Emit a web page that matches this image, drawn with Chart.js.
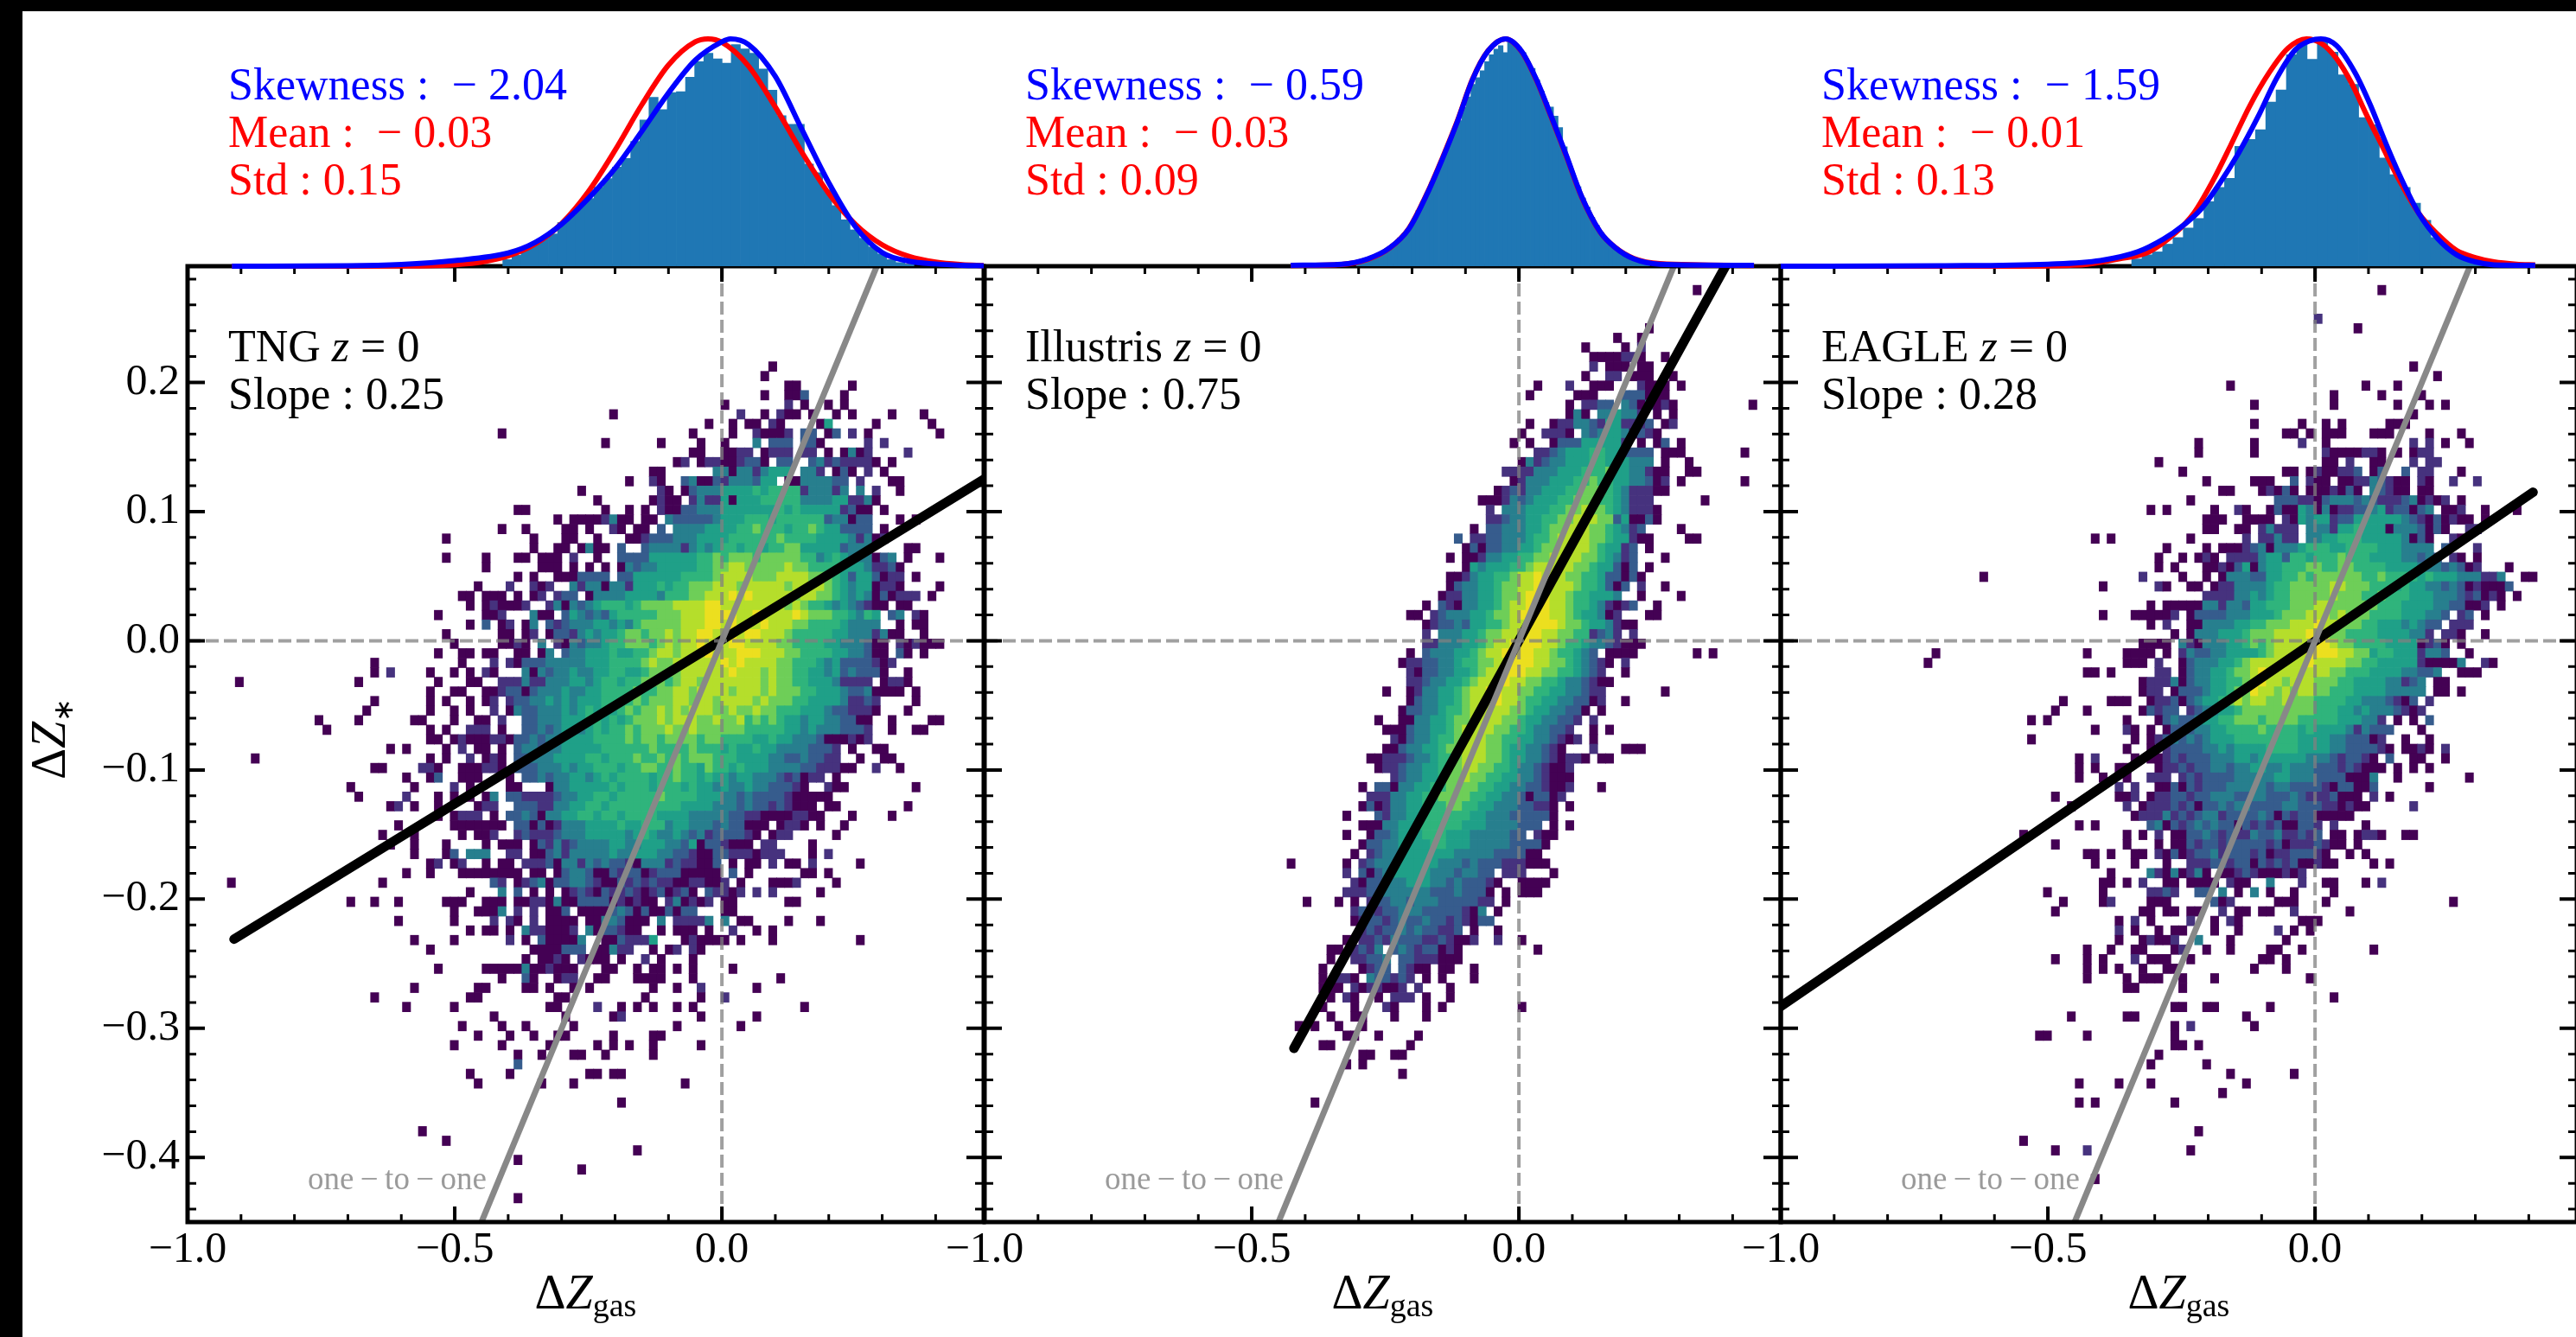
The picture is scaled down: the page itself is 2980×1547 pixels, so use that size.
<!DOCTYPE html>
<html>
<head>
<meta charset="utf-8">
<title>Delta Z star vs Delta Z gas</title>
<script src="https://cdn.jsdelivr.net/npm/chart.js@4/dist/chart.umd.min.js"></script>
<style>
html, body { margin: 0; padding: 0; width: 2980px; height: 1547px; background: #fff; overflow: hidden; }
#bandTop { position: absolute; left: 0; top: 0; width: 2980px; height: 13px; background: #000; }
#bandLeft { position: absolute; left: 0; top: 0; width: 26px; height: 1547px; background: #000; }
canvas { position: absolute; }
</style>
</head>
<body>
<div id="bandTop"></div>
<div id="bandLeft"></div>
<canvas id="main0"></canvas><canvas id="main1"></canvas><canvas id="main2"></canvas>
<canvas id="hist0"></canvas><canvas id="hist1"></canvas><canvas id="hist2"></canvas>
<script>
const panelNames = ['TNG', 'Illustris', 'EAGLE'];
const slopes = ['0.25', '0.75', '0.28'];
const skews = ['\u22122.04', '\u22120.59', '\u22121.59'];
const means = ['\u22120.03', '\u22120.03', '\u22120.01'];
const stds = ['0.15', '0.09', '0.13'];

const xMin = -1, xMax = 0.49, yMin = -0.45, yMax = 0.29;
const xTicks = [-1, -0.9, -0.8, -0.7, -0.6, -0.5, -0.4, -0.3, -0.2, -0.1, 0, 0.1, 0.2, 0.3, 0.4];
const xMajor = [-1, -0.5, 0];
const yTicks = [-0.44, -0.42, -0.4, -0.38, -0.36, -0.34, -0.32, -0.3, -0.28, -0.26, -0.24, -0.22, -0.2, -0.18, -0.16, -0.14, -0.12, -0.1, -0.08, -0.06, -0.04, -0.02, 0, 0.02, 0.04, 0.06, 0.08, 0.1, 0.12, 0.14, 0.16, 0.18, 0.2, 0.22, 0.24, 0.26, 0.28];
const yMajor = [-0.4, -0.3, -0.2, -0.1, 0, 0.1, 0.2];

// viridis steps of the log colour scale, index = level in the rows below
const levelColors = ['', '#440154', '#46327e', '#365c8d', '#277f8e', '#1fa088', '#2fb47c', '#6ece58', '#b5de2b', '#ecdf1f'];

// fit lines
const blackX = [[-0.913, 0.49], [-0.421, 0.39], [-1, 0.408]];
const blackY = [[-0.231, 0.125], [-0.3155, 0.2925], [-0.283, 0.115]];
const oneToOneX = [-0.45, 0.29];
const oneToOneY = [-0.45, 0.29];

// marginal histograms: first bin centre, bin width, bar heights
const histStart = [-0.4015, -0.3, -0.3334];
const histStep = [0.0171, 0.00858, 0.0193];
const histBarPx = [10.6, 5.4, 12];
const tngHist = [0.029, 0.048, 0.073, 0.098, 0.123, 0.142, 0.192, 0.223, 0.267, 0.298, 0.348, 0.386, 0.436, 0.474, 0.549, 0.643, 0.743, 0.689, 0.764, 0.768, 0.831, 0.9, 0.937, 0.912, 0.893, 0.975, 0.956, 0.937, 0.868, 0.774, 0.662, 0.624, 0.624, 0.449, 0.411, 0.336, 0.267, 0.204, 0.16, 0.123, 0.085, 0.054, 0.029, 0.016, 0.008];
const illustrisHist = [0.018, 0.025, 0.032, 0.042, 0.05, 0.06, 0.072, 0.085, 0.1, 0.125, 0.145, 0.17, 0.2, 0.245, 0.285, 0.32, 0.37, 0.41, 0.46, 0.51, 0.56, 0.6, 0.64, 0.7, 0.745, 0.8, 0.83, 0.86, 0.9, 0.93, 0.955, 0.97, 0.94, 0.985, 0.98, 0.965, 0.94, 0.9, 0.87, 0.82, 0.77, 0.72, 0.7, 0.66, 0.61, 0.525, 0.44, 0.39, 0.35, 0.3, 0.26, 0.215, 0.18, 0.148, 0.115, 0.09, 0.075, 0.06, 0.05, 0.04, 0.03, 0.022, 0.017, 0.013];
const eagleHist = [0.032, 0.05, 0.063, 0.097, 0.126, 0.168, 0.21, 0.284, 0.347, 0.387, 0.527, 0.558, 0.6, 0.722, 0.775, 0.93, 0.996, 0.91, 0.996, 0.942, 0.842, 0.8, 0.654, 0.622, 0.476, 0.403, 0.347, 0.277, 0.202, 0.126, 0.095, 0.054, 0.032, 0.019];

const tngRedX = [-0.917, -0.7, -0.6, -0.55, -0.5, -0.45, -0.4, -0.35, -0.3, -0.25, -0.2, -0.15, -0.1, -0.05, -0.026, 0, 0.05, 0.1, 0.15, 0.2, 0.25, 0.3, 0.35, 0.4, 0.45, 0.49];
const tngRedY = [0, 0, 0.001, 0.002, 0.007, 0.018, 0.045, 0.097, 0.188, 0.328, 0.51, 0.71, 0.885, 0.987, 1, 0.985, 0.88, 0.7, 0.5, 0.32, 0.184, 0.094, 0.043, 0.018, 0.007, 0.003];
const tngBlueX = [-0.917, -0.7, -0.6, -0.5, -0.4, -0.35, -0.3, -0.25, -0.2, -0.15, -0.1, -0.05, 0, 0.016, 0.05, 0.1, 0.15, 0.2, 0.25, 0.3, 0.35, 0.4, 0.45, 0.49];
const tngBlueY = [0, 0.002, 0.008, 0.025, 0.058, 0.104, 0.185, 0.298, 0.43, 0.593, 0.762, 0.906, 0.987, 1, 0.975, 0.835, 0.6, 0.367, 0.173, 0.06, 0.022, 0.01, 0.004, 0.002];
const illustrisBlueX = [-0.427, -0.332, -0.283, -0.241, -0.206, -0.171, -0.143, -0.115, -0.087, -0.058, -0.025, 0.005, 0.033, 0.061, 0.089, 0.117, 0.152, 0.18, 0.215, 0.264, 0.44];
const illustrisBlueY = [0.004, 0.009, 0.032, 0.082, 0.164, 0.322, 0.473, 0.637, 0.82, 0.946, 1, 0.946, 0.82, 0.656, 0.486, 0.309, 0.151, 0.082, 0.032, 0.009, 0.004];
const illustrisRedX = [-0.427, -0.332, -0.283, -0.241, -0.206, -0.171, -0.143, -0.115, -0.087, -0.058, -0.025, 0.005, 0.033, 0.061, 0.089, 0.117, 0.152, 0.18, 0.215, 0.264, 0.44];
const illustrisRedY = [0.003, 0.008, 0.03, 0.081, 0.166, 0.325, 0.477, 0.64, 0.822, 0.947, 1, 0.944, 0.817, 0.652, 0.482, 0.306, 0.15, 0.083, 0.034, 0.011, 0.003];
const eagleRedX = [-1, -0.6, -0.437, -0.367, -0.311, -0.262, -0.227, -0.192, -0.157, -0.122, -0.086, -0.051, -0.016, 0.012, 0.04, 0.068, 0.096, 0.124, 0.159, 0.194, 0.23, 0.265, 0.3, 0.335, 0.377, 0.412];
const eagleRedY = [0, 0, 0.006, 0.032, 0.063, 0.145, 0.233, 0.372, 0.536, 0.706, 0.851, 0.958, 1, 0.98, 0.914, 0.807, 0.668, 0.536, 0.372, 0.233, 0.139, 0.069, 0.038, 0.019, 0.009, 0.006];
const eagleBlueX = [-1, -0.7, -0.5, -0.402, -0.332, -0.283, -0.248, -0.213, -0.178, -0.143, -0.107, -0.072, -0.037, -0.009, 0.011, 0.04, 0.075, 0.103, 0.131, 0.159, 0.194, 0.23, 0.265, 0.3, 0.335, 0.412];
const eagleBlueY = [0, 0.002, 0.009, 0.025, 0.063, 0.12, 0.177, 0.252, 0.366, 0.498, 0.656, 0.826, 0.952, 0.992, 1, 0.971, 0.851, 0.712, 0.549, 0.397, 0.233, 0.12, 0.05, 0.019, 0.006, 0.004];

// 2D histograms, 100x100 bins: "row from top:first column:level per bin", '.' = empty
const tngRows = [
"10:73:1","11:72:1","12:75:11......1","13:72:1..113....1","14:67:1.......2.1..1.1",
"15:53:1...............2..1.211.1..1.1....1...1","16:65:1..1.11.21....15.....1......1",
"17:39:1.......................1....1..21112.33.13.2.1........1",
"18:52:1......1....1..1...4.333.331.....2.2","19:63:11..1122.1222.22.1.1412....2",
"20:61:12.122112331.33..342322221.1","21:58:11......4414424555.442.131.2.1",
"22:55:1..21..341132444355.11444433.2...11","23:49:1.........21.134445555656666244424.4.2..1",
"24:51:1......1211.242251555666664444552241","25:41:11.........1..1.1.211334445555555656555552311.1",
"26:46:1.11112411.11.43333345556665666666344133...1.1","27:39:1..1....11.1..21.11.3.4444555566766656676553333.1",
"28:32:1..........1...11..1...112333444555566666676666555542412",
"29:43:1..11.1411.3..34444245456656656677555553444....11",
"30:32:1....1...11.111.2..1..33335555556676777677777664565444134.1...1",
"31:37:1......111.1.1.1.143445555566778877777877666655542231",
"32:41:1.1..1113333.335555556666788887778888777653553122.1",
"33:36:1...2..212..424414425556566777888788888788887654551221....1",
"34:34:11.111.1.12.233.144445555466677888989888887887765454131222.1",
"35:35:1.121112..2414345666567777888899888888887876654543211.11",
"36:31:1.....112...411.3543435666667778889999889888898777665465.34.21",
"37:35:1.3.12.14.323444554546777778889989888988877666654444..1.11",
"38:32:1......11.12.133245455677677878899889899888766666554442411..1",
"39:33:1.....1121.4.214344566777678788989899888877666655444311.212111",
"40:31:1..11.11..11.14.34455565566788788898889998887766665544311.31.1",
"41:23:1..........1...2.2133344444555666678778888889898888776665453333212",
"42:23:1.2....1..1.1.21...4143445445566556777788888898887877665545343331..1",
"43:6:1..............1.........1...11..22242244455456656677767887888888878776655542222.1221",
"44:30:1..11..11233134445445566667667788788887888787776655543341111.1",
"45:23:1......1.1..1.12.23344545455566667677788788788887877766555542232....1",
"46:22:1.......1..1.1..2.14334445456565676778787888778778776665554332221...1",
"47:16:1....1......11...1..11.2..33444555665656777878887787786767655455443311..1....11",
"48:17:1............1.1..222.1..33434554565667677787787777776666655454443332..1..11",
"49:30:11.12111221334344555566667677677776776666556554443111212",
"50:25:1.1....1.2.11.1.34434455555666666766667666565565544443332.1..11",
"51:8:1.....................1.1..2.121.33444555566566676676767776665555443343322..1..11",
"52:23:11....221..111221.33344454556665667766766576656555444433222 11..2..1".replace(' ', ''),
"53:27:1..13..111...1.33434455456566665667665655455444323 122.1".replace(' ', ''),
"54:20:1.......1....2.1....11...144555556566656665655454454433321..211........1",
"55:21:1.....2...1.1.1.14.33222234455665666667666655544343333211111",
"56:25:12.1..1....122..33322445566566666666655554443433232111.11........1",
"57:31:1.1222.1.3343144556656656666555544444332211112211...1....1",
"58:26:1......1111111.33131244455556556664554443433111.1221.1..1",
"59:24:1...1.....1.112..2322234445555545654454342333321.122.....1",
"60:25:1..1...1....1.111.132423444455445554435133211 1.22....1".replace(' ', ''),
"61:28:1...13.444..22.11342444445445554433 211332221222...1.2".replace(' ', ''),
"62:30:12.12..1.11.2223144243433214442322113.1.11.2.11.2.....1",
"63:27:1..1...11111111.11.134431132331233311111.3.1......11.1",
"64:5:1..................1.............32.12341334432113232322112 2112.1...1112....1".replace(' ', ''),
"65:35:1...4.3.1.1.12321322321231231.32212.2.2.....1",
"66:20:1..1..1.....111..111.112214113333121211.241212.11......11",
"67:33:1..1114.2.2.113.111134313113133...11",
"68:26:1......1....2.21.2.1111.11443111.4.22224.4.11....1...1",
"69:35:1.11.1.4221112.4133211..1.111.1..2..1.1",
"70:28:1....1......2.1.311114..1132225...121111.1...1..........1",
"71:30:1............1111333.11422..1.12.21","72:42:1.1121.2111.1..2.1...1",
"73:31:1.....111114112111...11..1.11.1.1....1","74:39:1..31..122..11...1111...1..........1",
"75:28:1.......11....11.1..1.1.......1..1..2......1","76:23:1...........11.........11.........1......1..2",
"77:27:1.....1...........11....2..1.1.1..1.1.............1","78:38:1........1.....12.........1......1",
"79:34:1....1..1.....1............1.......1","80:36:1...1..1..11.....1....11",
"81:33:1.....1.....1.....1.1.1..1.....1","82:41:1..1...11..1.....1","83:41:3",
"84:35:1....1.........11.11","85:36:1.......1...1.............1",
"87:54:1","90:29:1","91:32:1","92:56:1","93:41:1","94:49:1","97:41:1"
];
const illustrisRows = [
"2:89:1","6:83:1","7:79:1..1","8:75:1....1.2","9:76:1111221..1","10:76:2.111.11","11:75:1..22.111..1",
"12:69:1...2..111...2111.1","13:68:1.....111...333111","14:73:1.2233.4313121.........1","15:73:141.445442.1.1",
"16:68:1..1224432552223.12","17:67:1..2221.4345541321","18:66:1.1..1333555552.1.13.1",
"19:69:223455566553333.111.......1","20:67:14234455566555444.1..1","21:65:222244455566675544211..11",
"22:66:12444555667665544312.1.......1","23:64:1232445556677765422211",
"24:62:1112434555667776654222......1","25:63:2.44455566778776542221","26:63:2234455667788877351131",
"27:61:1.3344455677888776542 3....1".replace(' ', ''),"28:59:3.22334445667888877655211....11",
"29:60:1313344556778888765523.1","30:58:1.1124455667788887765423...1",
"31:60:154555667888887765531 3.1".replace(' ', ''),"32:58:1124556678898887766533131",
"33:58:13445567788998887665313.2..1","34:57:12244556778999887665554..1....1",
"35:55:1.321445567889998876654 2123..1".replace(' ', ''),"36:53:11.234445567789999887655412...11",
"37:55:123343556678899998776554211","38:55:2.44455677889998877662342.2",
"39:55:2244455678899998876654432111","40:53:1.3444556788999988766543.1111.......1.1",
"41:52:12233445667788999887765 4321.2".replace(' ', ''),"42:53:21334455678899988776654 32..1".replace(' ', ''),
"43:53:22344556788998877665443 211".replace(' ', ''),"44:50:1..1244556788998877665544322.......1",
"45:53:1344556788898876655443312..1","46:52:133445667888887765544331.1",
"47:49:1..11445567788887765544332.2","48:50:111344556788887766544332..1.1",
"49:51:2134456678887766554432 12.1".replace(' ', ''),"50:50:11344556778887765544321...2...111",
"51:48:1122234456678887765544321221.11","52:49:1223445567788776654432112",
"53:51:2344556778776655443 2111".replace(' ', ''),"54:47:1.3314455667777665544332 112...1".replace(' ', ''),
"55:48:22244556677776655443133 12".replace(' ', ''),"56:47:13124455666776655444332 21.1".replace(' ', ''),
"57:45:1...3244556666665544433 3331".replace(' ', ''),"58:47:11144556666665554444333.1.1",
"59:45:1..13345556665554444433.211","60:47:1334455556655544444333 31".replace(' ', ''),
"61:46:1.2344555555544444333311","62:38:1......1.23444555554443433322 2111".replace(' ', ''),
"63:45:2.31345555544434433.222...1","64:46:2133444555443433321..1111",
"65:45:2223344444433343331.1.111","66:40:1...1.1.233443444333332 2.1".replace(' ', ''),
"67:46:23323344433333214.1","68:46:123323433433 2321 33".replace(/ /g, ''),
"69:47:2323343433 2 23.1..1".replace(/ /g, ''),"70:45:1.22324333223211 2..2..1".replace(' ', ''),
"71:43:11.2324.343233121.........1","72:43:1..22334.33222111",
"73:42:1....1233.3211.11..1","74:42:1.221.433232.1.1...1",
"75:42:111.2122112.2...1","76:43:1.21..1.222.1..1",
"77:42:1...1...21...1.1.........1","78:43:1..11...1...1","79:39:1.1..1..1","80:45:11..1....1",
"81:42:11.........1","82:47:11..11","83:45:1.1","84:52:1","87:41:1"
];
const eagleRows = [
"2:75:1","5:67:2","6:72:1","10:79:1","11:82:1","12:56:1................1...1","13:69:1.....1....1",
"14:59:1.........1.......1...1.1","15:79:1","16:59:1.....1..1.1.....111","17:63:11.1.111...111....1...1",
"18:52:1......1.....2..1..........2.2.1..1","19:52:1......1........21111221.1.122",
"20:47:1....................11.2..11...2.22","21:50:1............11.1211223.13..3.22...1",
"22:53:1.....111..3.211.112243211.21..2..2","23:55:11...12131.1112131.43211.11",
"24:51:1..........3332213444343222341212.1","25:46:1.1.....1..21..131154141223345233134.112..1...1",
"26:53:111..1111.21545523355555543213121 1.1".replace(' ', ''),"27:53:11..11.24222.444255655514443131..22",
"28:39:1.1.........1......2.22422.4455666555554131..21",
"29:48:1....1.111234144456665566665554444.3...2",
"30:47:1..1.121.22224553665666766655554434 3.21.1".replace(' ', ''),
"31:47:1.1...1121351455666776677666655554443431 2...1".replace(' ', ''),
"32:25:1...................2....1..1.144433556676777777667666656555444224..11",
"33:40:1......21..11.12244445667777788777666565544343121113",
"34:53:222244545667777787776676665554443 231 21.1".replace(/ /g, ''),
"35:46:1.111114424435566677788777777666555544 331 12.1".replace(/ /g, ''),
"36:40:1...111112.1333344455567778887877766665554 43.23.1".replace(' ', ''),
"37:46:1.2..114444556677788898877766555 45433.222".replace(' ', ''),
"38:49:1.144455567778888988776666555544 2.221..1".replace(' ', ''),
"39:45:1111.421444556767888889987766665555123 1.1".replace(' ', ''),
"40:19:1..................1....1111.1.243344555567888899998877566555 2443..1".replace(' ', ''),
"41:18:1........................111.2..1344455678888888988887766555 5521111 4..21".replace(/ /g, ''),
"42:38:11.1.....22.134455677898888888877666555 54433 4..111".replace(/ /g, ''),
"43:45:122241344556678988788877766555 54423 4.11".replace(/ /g, ''),
"44:45:122.13334556779887878877666555 544444.11.1".replace(' ', ''),
"45:35:1.....111..122313455678788778777666655444321 3.2".replace(' ', ''),
"46:34:1...1......13233.2344556777777777666554544432 12".replace(' ', ''),
"47:31:1.1.........1...134334556677767777666665554 42.1.1.3".replace(' ', ''),
"48:39:1...21.1.13334455666676666565555 42433 3...1".replace(/ /g, ''),
"49:31:1............1.1234343455566666666555544333 12..1..1".replace(' ', ''),
"50:43:1..1.2333344545555666655554433332 1.1121.2".replace(' ', ''),
"51:37:1.2....1.112323334445545555554443 23321.3..11..1".replace(' ', ''),
"52:37:1.1..11...12232334434455445444333 23211 1.1.1.1".replace(/ /g, ''),
"53:37:1..1..1..222.23233334444455444333 31114..1........1".replace(' ', ''),
"54:42:2.2..1131323334444434433332133 113......1".replace(' ', ''),
"55:34:1.......112.1223323344433443334322 23111.2.1".replace(' ', ''),
"56:36:1......2.12223231334344333344333 2212 11.....2".replace(/ /g, ''),
"57:44:1222423234423333431323311111",
"58:37:1.1......3413234343313232311332.2...1",
"59:30:1............1.1.2.1133432322433422323.11.1221..11",
"60:34:1........1...1.1132332333332312223211.1",
"61:38:11.1..11.21312334233323122333 21..1.1".replace(' ', ''),
"62:39:1....1...1..2223323313232 311211....1.1".replace(' ', ''),
"63:41:1....421412 41.112321112 12".replace(/ /g, ''),
"64:40:11.1.2..11.1111.211..4...2..11...1.2",
"65:33:1......1.....2232..33.4.1.4.1..1....1",
"66:35:1....12....111.....312.....111...1...............1",
"67:34:1..........11.11.11..2.11.11..2......1","68:42:1.2.1....2..1.21.......111",
"69:42:2.1..1.11...1..1....2.1.1","70:42:1..12112..4...1......1",
"71:38:1..1..11...12..1..1....11..1........1","72:34:1...1.1...2.111..1........11.1",
"73:38:1.1.1..1..11.........1...1","74:38:1....1.111..1...1...........1","75:43:11.....1","76:69:1",
"77:49:11..11......1","78:36:1......11.............1","79:49:1.2.......1","80:32:11....1..........1",
"81:49:11.1","82:47:1","83:46:1......1","84:56:1.......1","85:37:1....1...1...........1","86:55:1",
"87:37:1.1.........1","90:52:1","91:30:1","92:34:1...2............1","95:39:1"
];

const heatRows = [tngRows, illustrisRows, eagleRows];
const histBars = [tngHist, illustrisHist, eagleHist];
const redX = [tngRedX, illustrisRedX, eagleRedX];
const redY = [tngRedY, illustrisRedY, eagleRedY];
const blueX = [tngBlueX, illustrisBlueX, eagleBlueX];
const blueY = [tngBlueY, illustrisBlueY, eagleBlueY];

const serif = '"Liberation Serif", "Times New Roman", serif';
const panelLeft = [217, 1139, 2060];
const panelW = 921, axisTop = 308, axisBottom = 1414;
const pad = 200, mainTop = 260, mainH = 1287, rightRoom = 70, histH = 320, histAreaTop = 45;

function pairs(xs, ys) {
    return xs.map((v, i) => ({ x: v, y: ys[i] }));
}

function cellsFrom(rows) {
    const cells = [], colors = [];
    const dx = (xMax - xMin) / 100, dy = (yMax - yMin) / 100;
    rows.forEach(function(row) {
        const parts = row.split(':');
        const r = Number(parts[0]), c = Number(parts[1]);
        parts[2].split('').forEach(function(ch, i) {
            if (ch === '.') return;
            cells.push({ x: xMin + (c + i + 0.5) * dx, y: [yMax - (r + 1) * dy, yMax - r * dy] });
            colors.push(levelColors[Number(ch)]);
        });
    });
    return { cells: cells, colors: colors };
}

// text pieces with their own font, the way the mixed math labels are set
function drawRuns(ctx, x, y, runs) {
    runs.forEach(function(run) {
        ctx.font = run.font;
        ctx.fillStyle = run.color || '#000';
        ctx.fillText(run.text, x, y + (run.dy || 0));
        x += ctx.measureText(run.text).width;
    });
}
function runsWidth(ctx, runs) {
    let w = 0;
    runs.forEach(function(run) { ctx.font = run.font; w += ctx.measureText(run.text).width; });
    return w;
}

const isMajor = (list, v) => list.some(m => Math.abs(m - v) < 1e-6);
const tickText = v => v.toFixed(1).replace('-', '\u2212');

function framePlugin(panel) {
    return {
        id: 'frame' + panel,
        afterDatasetsDraw(chart) {
            const ctx = chart.ctx, a = chart.chartArea, sx = chart.scales.x, sy = chart.scales.y;
            ctx.save();
            ctx.strokeStyle = '#000';
            xTicks.forEach(function(v) {
                const px = sx.getPixelForValue(v);
                const big = isMajor(xMajor, v);
                ctx.lineWidth = big ? 4 : 3;
                const len = big ? 18 : 9;
                ctx.beginPath();
                ctx.moveTo(px, a.bottom); ctx.lineTo(px, a.bottom - len);
                ctx.moveTo(px, a.top); ctx.lineTo(px, a.top + len);
                ctx.stroke();
            });
            yTicks.forEach(function(v) {
                const py = sy.getPixelForValue(v);
                const big = isMajor(yMajor, v);
                ctx.lineWidth = big ? 4 : 3;
                const len = big ? 20 : 10;
                ctx.beginPath();
                ctx.moveTo(a.left, py); ctx.lineTo(a.left + len, py);
                ctx.moveTo(a.right, py); ctx.lineTo(a.right - len, py);
                ctx.stroke();
            });
            ctx.lineWidth = 5;
            ctx.strokeRect(a.left, a.top, a.right - a.left, a.bottom - a.top);

            ctx.textBaseline = 'alphabetic';
            ctx.textAlign = 'left';
            const tx = a.left + 47;
            drawRuns(ctx, tx, a.top + 110, [
                { text: panelNames[panel] + ' ', font: '52px ' + serif },
                { text: 'z', font: 'italic 52px ' + serif },
                { text: ' = 0', font: '52px ' + serif }
            ]);
            drawRuns(ctx, tx, a.top + 165, [{ text: 'Slope : ' + slopes[panel], font: '52px ' + serif }]);
            drawRuns(ctx, a.left + 139, a.top + 1068, [
                { text: 'one\u2009\u2212\u2009to\u2009\u2212\u2009one', font: '37px ' + serif, color: '#9a9a9a' }
            ]);

            const xRuns = [
                { text: '\u0394', font: '56px ' + serif },
                { text: 'Z', font: 'italic 56px ' + serif },
                { text: 'gas', font: '38px ' + serif, dy: 9 }
            ];
            drawRuns(ctx, (a.left + a.right) / 2 - runsWidth(ctx, xRuns) / 2, a.bottom + 100, xRuns);

            if (panel === 0) {
                const yRuns = [
                    { text: '\u0394', font: '56px ' + serif },
                    { text: 'Z', font: 'italic 56px ' + serif },
                    { text: '\u2217', font: '32px ' + serif, dy: 9 }
                ];
                ctx.save();
                ctx.translate(58, (a.top + a.bottom) / 2 - 6);
                ctx.rotate(-Math.PI / 2);
                drawRuns(ctx, -runsWidth(ctx, yRuns) / 2, 0, yRuns);
                ctx.restore();
            }
            ctx.restore();
        }
    };
}

function histTextPlugin(panel) {
    return {
        id: 'histText' + panel,
        afterDraw(chart) {
            const ctx = chart.ctx, a = chart.chartArea, tx = a.left + 47;
            ctx.save();
            ctx.textBaseline = 'alphabetic';
            ctx.textAlign = 'left';
            const f = '52px ' + serif;
            drawRuns(ctx, tx, a.top + 70, [{ text: 'Skewness :  ' + skews[panel].replace('\u2212', '\u2212 '), font: f, color: '#0000ff' }]);
            drawRuns(ctx, tx, a.top + 125, [{ text: 'Mean :  ' + means[panel].replace('\u2212', '\u2212 '), font: f, color: '#ff0000' }]);
            drawRuns(ctx, tx, a.top + 180, [{ text: 'Std : ' + stds[panel], font: f, color: '#ff0000' }]);
            ctx.restore();
        }
    };
}

function lineSet(data, color, width, order, extra) {
    return Object.assign({
        type: 'line', data: data, borderColor: color, borderWidth: width,
        pointRadius: 0, fill: false, order: order, tension: 0
    }, extra || {});
}

function makeMain(panel) {
    const canvas = document.getElementById('main' + panel);
    canvas.width = pad + panelW + rightRoom;
    canvas.height = mainH;
    canvas.style.left = (panelLeft[panel] - pad) + 'px';
    canvas.style.top = mainTop + 'px';
    const heat = cellsFrom(heatRows[panel]);
    new Chart(canvas.getContext('2d'), {
        type: 'bar',
        data: {
            datasets: [
                lineSet(pairs([0, 0], [yMin, yMax]), 'rgba(128,128,128,0.75)', 4, 1, { borderDash: [15, 6] }),
                lineSet(pairs([xMin, xMax], [0, 0]), 'rgba(128,128,128,0.75)', 4, 1, { borderDash: [15, 6] }),
                lineSet(pairs(oneToOneX, oneToOneY), '#888888', 7, 2),
                lineSet(pairs(blackX[panel], blackY[panel]), '#000000', 11, 3, { borderCapStyle: 'round' }),
                {
                    type: 'bar', data: heat.cells, backgroundColor: heat.colors, borderWidth: 0,
                    barThickness: 9.4, grouped: false, order: 5
                }
            ]
        },
        options: {
            responsive: false,
            animation: false,
            devicePixelRatio: 1,
            layout: { padding: { left: 0, top: axisTop - mainTop, right: rightRoom, bottom: 0 } },
            plugins: { legend: { display: false }, tooltip: { enabled: false } },
            scales: {
                x: {
                    type: 'linear', min: xMin, max: xMax, offset: false,
                    grid: { display: false, drawTicks: false }, border: { display: false },
                    afterBuildTicks: axis => { axis.ticks = xTicks.map(v => ({ value: v })); },
                    afterFit: axis => { axis.height = mainH - (axisBottom - mainTop); },
                    ticks: {
                        autoSkip: false, maxRotation: 0, padding: 3, color: '#000',
                        font: { family: serif, size: 50 },
                        callback: v => isMajor(xMajor, v) ? tickText(v) : ''
                    }
                },
                y: {
                    type: 'linear', min: yMin, max: yMax,
                    grid: { display: false, drawTicks: false }, border: { display: false },
                    afterBuildTicks: axis => { axis.ticks = yTicks.map(v => ({ value: v })); },
                    afterFit: axis => { axis.width = pad; },
                    ticks: {
                        display: panel === 0, autoSkip: false, padding: 9, color: '#000',
                        font: { family: serif, size: 50 },
                        callback: v => isMajor(yMajor, v) ? tickText(v) : ''
                    }
                }
            }
        },
        plugins: [framePlugin(panel)]
    });
}

function makeHist(panel) {
    const canvas = document.getElementById('hist' + panel);
    canvas.width = pad + panelW + rightRoom;
    canvas.height = histH;
    canvas.style.left = (panelLeft[panel] - pad) + 'px';
    canvas.style.top = '0px';
    new Chart(canvas.getContext('2d'), {
        type: 'bar',
        data: {
            datasets: [
                lineSet(pairs(blueX[panel], blueY[panel]), '#0000ff', 6, 1, { cubicInterpolationMode: 'monotone', clip: false }),
                lineSet(pairs(redX[panel], redY[panel]), '#ff0000', 6, 2, { cubicInterpolationMode: 'monotone', clip: false }),
                {
                    type: 'bar',
                    data: histBars[panel].map((h, i) => ({ x: histStart[panel] + i * histStep[panel], y: h })),
                    backgroundColor: '#1f77b4', borderWidth: 0, barThickness: histBarPx[panel], grouped: false, order: 3
                }
            ]
        },
        options: {
            responsive: false,
            animation: false,
            devicePixelRatio: 1,
            layout: { padding: { left: pad, top: histAreaTop, right: rightRoom, bottom: histH - axisTop } },
            plugins: { legend: { display: false }, tooltip: { enabled: false } },
            scales: {
                x: { type: 'linear', min: xMin, max: xMax, offset: false, display: false },
                y: { type: 'linear', min: 0, max: 1, display: false }
            }
        },
        plugins: [histTextPlugin(panel)]
    });
}

[0, 1, 2].forEach(function(panel) {
    makeMain(panel);
    makeHist(panel);
});
</script>
</body>
</html>
